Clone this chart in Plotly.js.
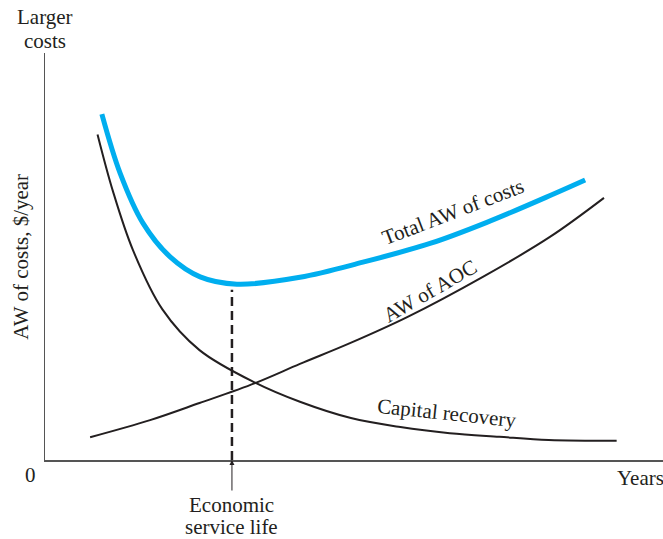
<!DOCTYPE html>
<html>
<head>
<meta charset="utf-8">
<script src="https://cdn.plot.ly/plotly-3.0.1.min.js"></script>
<style>
  html, body { margin: 0; padding: 0; background: #fff; }
  #plot { width: 663px; height: 539px; }
</style>
</head>
<body>
<div id="plot"></div>
<script>
// values (years on x, relative cost on y, 0..100)
var capYears = [1.7, 2.2, 2.85, 3.8, 5.0, 6.8, 8.25, 9.9, 11.5, 13.1, 14.7, 16.3, 18.5];
var capCost  = [80, 66, 51.5, 37, 27, 19, 14.3, 10.3, 8.1, 6.6, 5.7, 4.9, 4.7];

var aocYears = [1.46, 3.4, 5.0, 6.8, 8.25, 9.87, 11.72, 14.17, 16.34, 18.09];
var aocCost  = [5.6, 9.8, 14.0, 18.9, 23.6, 28.7, 35.1, 45.0, 54.8, 64.4];

var totYears = [1.84, 2.43, 3.17, 4.05, 5.02, 6.21, 8.25, 10.29, 12.46, 14.3, 16.44, 17.48];
var totCost  = [85.0, 70.5, 58.2, 49.9, 45.0, 43.2, 44.9, 48.6, 53.2, 58.4, 65.3, 68.8];

var serviceLife = 6.05;
var minCost = 41.8;

var serif = 'Liberation Serif, Times New Roman, serif';

var data = [
  {
    x: capYears, y: capCost, mode: 'lines', name: 'Capital recovery',
    line: { color: '#231f20', width: 2, shape: 'spline' }
  },
  {
    x: aocYears, y: aocCost, mode: 'lines', name: 'AW of AOC',
    line: { color: '#231f20', width: 2, shape: 'spline' }
  },
  {
    x: totYears, y: totCost, mode: 'lines', name: 'Total AW of costs',
    line: { color: '#00aeef', width: 5, shape: 'spline' }
  },
  {
    x: [serviceLife, serviceLife], y: [0, minCost], mode: 'lines', name: 'ESL',
    line: { color: '#231f20', width: 2.5, dash: '9px,5px' }
  }
];

function label(x, y, text, extra) {
  var a = { x: x, y: y, text: text, showarrow: false, xanchor: 'center', yanchor: 'middle' };
  for (var k in extra) a[k] = extra[k];
  return a;
}

var layout = {
  width: 663,
  height: 539,
  margin: { l: 45, r: 0, t: 53, b: 79 },
  paper_bgcolor: '#fff',
  plot_bgcolor: '#fff',
  showlegend: false,
  font: { family: serif, size: 21, color: '#231f20' },
  xaxis: {
    range: [0, 20],
    showline: true, linecolor: '#555', linewidth: 1.5,
    showgrid: false, zeroline: false, showticklabels: false, ticks: ''
  },
  yaxis: {
    range: [0, 100],
    showline: true, linecolor: '#555', linewidth: 1.5,
    showgrid: false, zeroline: false, showticklabels: false, ticks: ''
  },
  annotations: [
    label(0, 1.088, 'Larger', { xref: 'paper', yref: 'paper' }),
    label(0, 1.030, 'costs', { xref: 'paper', yref: 'paper' }),
    label(-0.024, -0.037, '0', { xref: 'paper', yref: 'paper' }),
    label(0.963, -0.044, 'Years', { xref: 'paper', yref: 'paper' }),
    label(-0.04, 0.5, 'AW of costs, $/year', { xref: 'paper', yref: 'paper', textangle: -90 }),
    label(13.2, 61, 'Total AW of costs', { textangle: -21 }),
    label(12.46, 41.5, 'AW of AOC', { textangle: -30 }),
    label(13.0, 11.6, 'Capital recovery', { textangle: 6 }),
    { x: serviceLife, y: 0, text: '', showarrow: true, ax: 0, ay: 32,
      arrowhead: 2, arrowsize: 1, arrowwidth: 1, arrowcolor: '#231f20', standoff: 0 },
    label(serviceLife, -0.111, 'Economic', { yref: 'paper' }),
    label(serviceLife, -0.165, 'service life', { yref: 'paper' })
  ]
};

Plotly.newPlot('plot', data, layout, { displayModeBar: false, staticPlot: true });
</script>
</body>
</html>
